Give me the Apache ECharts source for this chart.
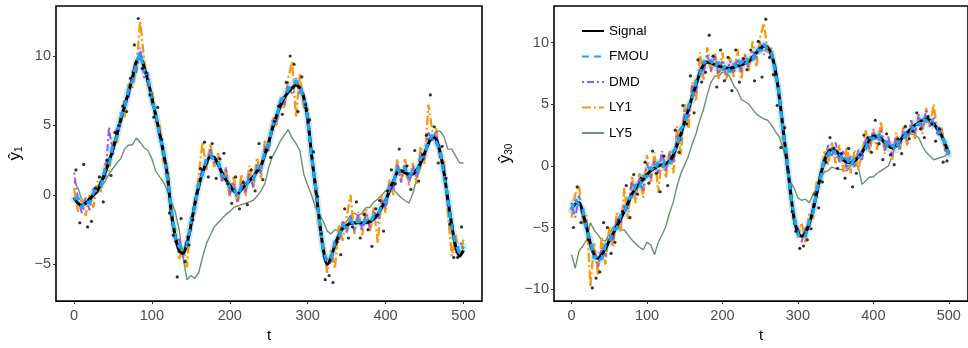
<!DOCTYPE html>
<html><head><meta charset="utf-8">
<script src="https://cdn.jsdelivr.net/npm/echarts@6.0.0/dist/echarts.min.js"></script>
<style>html,body{margin:0;padding:0;background:#fff}#c{width:968px;height:348px}</style>
</head><body><div id="c"></div>
<script>
// time grid for lines: t = 0,5,...,500 ; observations at t = 2.5,7.5,...,497.5
const lineStep = 5;
const obsStart = 2.5, obsStep = 5;
const xTicks = [0,100,200,300,400,500];
const yTicks1 = [-5,0,5,10];
const yTicks30 = [-10,-5,0,5,10];
const seriesNames = ['Signal','FMOU','DMD','LY1','LY5'];

// ---------- panel 1 (y1) ----------
const signal1 = [-0.2,-0.6,-0.75,-0.6,-0.3,0.0,0.3,0.9,1.6,2.4,
3.3,4.3,5.4,6.4,7.4,8.4,9.6,9.9,9.2,8.2,
7.0,5.7,4.4,3.0,1.4,-1.3,-3.0,-4.0,-4.2,-3.5,
-2.2,-0.7,0.6,1.6,2.3,2.75,2.7,2.2,1.6,1.1,
0.7,0.3,0.1,0.4,0.7,1.0,1.3,1.7,2.1,2.9,
3.8,4.8,5.7,6.4,7.0,7.4,7.7,7.9,7.7,7.0,
5.5,2.9,0.6,-1.8,-3.9,-5.0,-4.5,-3.6,-2.9,-2.4,
-2.2,-2.05,-2.0,-2.0,-2.0,-2.0,-1.9,-1.7,-1.4,-0.9,
-0.4,0.3,1.0,1.6,1.75,1.6,1.5,1.5,1.8,2.3,
3.0,3.7,4.2,4.0,3.1,1.6,-0.3,-2.2,-3.7,-4.4,-4.0];
const fmou1 = [-0.3,-0.2,-0.9,-0.4,-0.6,0.2,0.4,0.7,1.9,2.3,
3.6,4.2,5.6,6.3,7.6,8.2,9.5,10.2,9.0,8.4,
6.8,5.9,4.2,3.2,1.2,-1.0,-3.1,-3.7,-4.0,-3.7,
-2.0,-0.9,0.8,1.5,2.6,2.9,2.5,2.4,1.4,1.3,
0.5,0.5,-0.1,0.6,0.5,1.2,1.1,1.9,2.0,3.1,
3.7,5.0,5.6,6.7,7.1,7.6,7.9,8.2,7.8,6.9,
5.6,2.8,0.7,-1.9,-4.0,-4.8,-4.6,-3.4,-3.0,-2.2,
-2.4,-1.8,-2.2,-1.8,-2.2,-1.8,-2.0,-1.5,-1.5,-0.7,
-0.5,0.5,0.9,1.9,1.5,1.9,1.3,1.7,1.6,2.6,
2.9,3.9,4.3,3.8,3.2,1.4,-0.2,-2.4,-3.5,-4.2,-3.7];
const dmd1 = [1.6,-0.2,-1.3,-0.2,-1.1,0.6,0.0,1.4,1.2,4.9,
2.8,4.8,5.0,7.0,6.9,8.9,8.8,10.6,8.4,8.8,
6.5,6.1,4.0,3.4,0.8,-0.8,-3.4,-3.2,-4.5,-3.0,
-2.6,-0.3,0.3,2.1,2.0,3.3,2.3,2.8,1.0,1.9,
0.0,0.9,-0.5,0.9,0.2,1.5,0.6,2.2,1.5,3.5,
3.2,5.3,5.2,7.0,6.5,8.1,7.2,8.4,7.2,7.3,
5.0,3.2,0.2,-1.5,-4.4,-4.6,-5.0,-3.2,-3.4,-1.9,
-2.7,-1.5,-2.6,-1.4,-2.5,-1.3,-2.4,-1.1,-2.0,-0.4,
-1.0,0.9,0.4,2.3,0.9,2.2,0.8,2.1,1.2,3.1,
2.5,4.5,3.8,4.6,2.6,2.2,-1.0,-1.6,-4.2,-3.6,-3.3];
const ly1_1 = [0.5,-1.2,-0.3,-1.5,0.0,-0.9,1.0,0.2,2.3,1.7,
3.9,3.6,6.0,5.6,8.0,7.6,9.2,12.5,9.8,7.7,
7.6,5.2,5.0,2.4,2.2,-1.8,-2.4,-4.6,-3.7,-5.2,
-1.6,-1.3,1.4,3.8,1.8,3.7,2.0,3.0,0.9,2.0,
-0.2,1.4,-0.8,1.5,-0.1,2.1,0.5,2.7,1.2,3.9,
3.2,5.6,4.9,6.9,6.2,8.4,9.6,5.6,8.7,6.3,
6.2,2.2,1.2,-2.5,-3.4,-5.6,-4.0,-5.3,-2.2,-3.3,
-1.6,0.0,-2.8,-1.2,-2.9,-1.0,-2.6,-0.9,-3.5,0.0,
-1.3,1.1,0.0,2.6,1.0,2.6,0.7,2.3,0.8,3.5,
2.2,6.5,4.6,4.8,2.4,2.4,-1.3,-4.4,-2.9,-4.5,-3.2];
const ly5_1 = [1.0,0.5,-0.3,-0.7,-0.5,-0.1,0.2,0.6,1.0,1.5,
1.9,2.3,2.6,3.3,3.6,3.6,4.1,3.8,3.4,3.2,
2.6,1.7,1.3,0.9,0.3,-0.5,-1.2,-2.5,-4.5,-6.1,
-5.8,-6.0,-5.6,-4.5,-3.5,-2.9,-2.3,-2.0,-1.7,-1.4,
-1.2,-0.9,-0.8,-0.7,-0.6,-0.5,-0.4,-0.1,0.3,0.8,
2.0,2.8,3.3,3.9,4.3,4.7,4.1,3.7,3.2,1.5,
0.7,0.0,-0.9,-1.4,-1.9,-2.6,-2.8,-2.5,-2.6,-2.1,
-1.9,-1.5,-1.3,-1.5,-1.3,-0.9,-0.9,-0.5,-0.3,0.0,
0.3,0.2,0.4,0.1,-0.2,-0.4,-0.6,0.1,1.2,2.0,
3.0,3.7,4.1,4.6,4.6,4.2,3.3,3.3,2.8,2.3,2.3];
const obs1 = [1.8,-2.0,2.2,-2.3,-1.9,0.5,1.3,-0.5,2.5,1.4,
4.5,5.0,6.4,6.0,8.4,10.8,12.7,9.1,8.8,7.2,
5.6,6.3,4.0,2.3,-1.3,-2.9,-5.9,-1.7,-4.8,-3.6,
-1.8,0.1,1.9,3.8,1.3,3.7,1.2,2.6,3.0,0.8,
-0.6,1.3,-1.0,0.9,-0.7,1.8,0.3,3.7,1.1,3.2,
2.7,5.3,6.4,5.8,8.1,10.0,9.4,6.0,8.5,6.5,
5.4,3.1,-0.1,-2.8,-6.1,-5.8,-6.3,-3.4,-4.3,-1.0,
-3.1,-2.3,-0.5,-3.1,-1.4,-2.5,-3.7,-1.0,-0.4,-2.6,
0.3,1.8,0.8,3.3,1.7,2.1,0.4,3.2,1.0,2.9,
4.3,7.2,4.9,2.3,3.5,1.2,-2.1,-4.5,-4.5,-2.3];

// ---------- panel 2 (y30) ----------
const signal30 = [-3.5,-3.1,-3.0,-3.8,-5.0,-6.3,-7.2,-7.5,-7.2,-6.7,
-6.1,-5.5,-4.9,-4.3,-3.7,-3.0,-2.3,-1.8,-1.5,-1.1,
-0.7,-0.4,-0.2,0.0,0.1,0.2,0.4,0.9,1.7,2.6,
3.6,4.6,5.6,6.6,7.5,8.2,8.4,8.35,8.2,8.1,
8.0,7.95,7.9,8.0,8.1,8.2,8.35,8.5,8.8,9.2,
9.5,9.7,9.6,9.1,7.8,5.8,3.2,0.6,-2.0,-4.3,
-5.4,-5.7,-5.4,-4.7,-3.6,-2.2,-0.8,0.4,1.1,1.3,
1.2,0.9,0.5,0.3,0.25,0.4,0.7,1.1,1.6,2.1,
2.4,2.4,2.2,1.9,1.6,1.45,1.6,2.0,2.4,2.7,
3.0,3.3,3.5,3.7,3.8,3.7,3.4,3.0,2.5,1.8,1.0];
const fmou30 = [-3.6,-2.7,-3.2,-3.5,-5.3,-6.0,-7.5,-7.2,-7.6,-6.4,
-6.3,-5.2,-5.1,-4.0,-3.9,-2.7,-2.5,-1.5,-1.8,-0.8,
-0.9,-0.1,-0.4,0.3,-0.1,0.5,0.2,1.2,1.5,3.0,
3.4,4.9,5.4,6.9,7.3,8.5,8.2,8.6,8.0,8.4,
7.8,8.2,7.6,8.3,7.9,8.5,8.1,8.8,8.6,9.5,
9.3,9.9,9.4,9.2,7.6,5.9,3.0,0.8,-2.2,-4.1,
-5.6,-5.5,-5.7,-4.5,-3.8,-2.0,-1.0,0.6,0.9,1.5,
1.0,1.1,0.3,0.6,0.0,0.6,0.5,1.3,1.4,2.3,
2.2,2.6,2.0,2.1,1.4,1.7,1.3,2.2,2.2,2.9,
2.8,3.5,3.3,3.9,3.6,3.9,3.2,3.2,2.3,1.9,0.9];
const dmd30 = [-3.0,-4.2,-2.4,-4.3,-4.6,-6.8,-6.9,-8.2,-6.6,-7.3,
-5.6,-6.0,-4.4,-4.8,-3.2,-3.6,-1.3,-2.3,-1.0,-2.0,
0.2,-1.0,0.4,-0.6,1.2,-0.4,1.0,0.2,2.6,1.9,
4.5,3.9,6.5,5.9,8.0,7.7,9.0,7.7,8.9,7.4,
8.6,7.3,8.5,7.5,8.7,7.6,9.0,7.9,9.4,8.6,
10.1,9.0,9.9,8.6,8.2,5.3,3.7,0.0,-1.5,-4.8,
-5.0,-6.2,-5.0,-5.2,-3.1,-2.7,-0.3,-0.1,1.7,0.8,
1.9,0.3,1.2,-0.3,0.8,-0.1,1.3,0.5,2.3,1.4,
3.0,1.8,2.9,1.2,2.3,0.8,2.3,1.4,3.1,2.0,
3.7,2.6,4.2,3.0,4.5,3.1,4.0,2.4,3.1,1.2,1.5];
const ly1_30 = [-4.2,-2.3,-1.6,-4.7,-4.0,-9.8,-6.2,-8.8,-5.8,-8.0,
-5.0,-6.6,-3.8,-5.4,-1.8,-4.3,-0.8,-3.0,-0.6,-2.6,
0.9,-1.4,1.1,-2.2,1.0,-1.0,1.3,-0.6,3.2,0.9,
5.0,3.0,6.8,5.2,9.2,7.0,9.6,7.6,9.2,7.0,
9.2,6.9,8.8,7.2,9.5,7.0,9.1,7.6,10.1,8.0,
10.4,11.6,9.2,9.6,7.2,6.4,2.2,1.4,-2.8,-3.8,
-5.8,-4.6,-6.2,-3.8,-4.3,-1.2,-1.5,1.3,0.1,1.9,
0.2,1.7,-0.5,1.6,-0.6,1.3,-0.3,1.0,2.9,1.0,
2.9,1.3,3.6,1.0,2.4,0.5,2.7,1.2,3.2,1.6,
3.7,2.2,4.1,2.6,4.7,3.2,5.0,2.6,3.2,1.4,0.8];
const ly5_30 = [-7.2,-8.3,-6.9,-6.5,-6.0,-4.6,-5.2,-5.6,-6.0,-6.1,
-5.5,-5.0,-4.7,-5.2,-5.2,-5.6,-6.0,-6.3,-6.6,-6.8,
-6.2,-6.4,-7.2,-6.2,-5.6,-4.9,-3.8,-2.9,-1.6,-0.6,
0.1,0.8,1.8,2.6,3.7,4.6,5.8,6.8,7.3,7.3,
7.6,7.6,7.2,6.5,6.1,5.4,5.2,5.0,4.6,4.2,
4.0,3.8,3.7,3.3,2.8,2.4,1.5,0.3,-1.3,-1.8,
-2.6,-2.8,-2.7,-3.0,-2.3,-1.9,-1.0,-0.5,-0.4,-0.1,
-0.2,-0.3,-0.3,-0.4,0.0,0.2,-0.1,-1.5,-1.2,-0.9,
-0.9,-0.6,-0.4,-0.2,0.0,0.8,1.9,2.2,2.5,2.8,
2.6,2.5,2.3,1.6,1.1,0.8,0.5,0.6,0.7,0.8,1.2];
const obs30 = [-5.0,-1.7,-4.6,-4.5,-6.0,-9.9,-9.1,-8.6,-4.6,-5.0,
-7.1,-6.2,-4.4,-3.7,-1.6,-4.2,-0.7,-2.3,-1.0,0.3,
-1.4,1.2,-0.6,-2.1,0.8,-1.6,0.6,2.9,1.1,4.9,
3.4,7.3,4.3,8.6,6.8,7.6,10.6,8.9,6.4,9.4,
6.9,8.8,6.1,9.4,6.8,8.7,7.8,9.4,6.9,10.1,
7.2,11.9,8.8,7.4,4.9,1.5,3.1,-0.5,-3.7,-5.3,
-6.7,-6.5,-6.0,-5.1,-2.3,-3.4,-1.3,0.3,2.3,1.4,
-0.2,1.0,-1.0,1.4,-1.7,-0.6,0.9,2.5,2.3,1.1,
3.7,1.8,0.5,2.6,0.9,0.1,2.2,1.0,3.2,2.2,
2.8,4.3,3.0,2.3,4.0,3.4,2.0,3.0,0.3,0.4];

// ---------- build ----------
const lp = arr => arr.map((v,i)=>[i*lineStep, v]);
const op = arr => arr.map((v,i)=>[obsStart + i*obsStep, v]);
const minus = v => String(v).replace('-', '\u2212');
const FONT = 'Liberation Sans, Arial, sans-serif';

const col = {Signal:'#000000', FMOU:'#16A8F0', DMD:'#8B5CF6', LY1:'#F99A0A', LY5:'#6B9170'};

function panelSeries(g, S, F, D, L1, L5, O){
  const base = {type:'line', xAxisIndex:g, yAxisIndex:g, symbol:'none', showSymbol:false, animation:false};
  return [
    Object.assign({}, base, {name:'band'+g, data:lp(F), z:1, silent:true,
      lineStyle:{color:'rgba(150,212,245,0.5)', width:7, cap:'round', join:'round'}}),
    Object.assign({}, base, {name:'LY5', data:lp(L5), z:2,
      lineStyle:{color:col.LY5, width:1.4}, itemStyle:{color:col.LY5}}),
    Object.assign({}, base, {name:'LY1', data:lp(L1), z:3,
      lineStyle:{color:col.LY1, width:2.3, type:[9,3,2,3]}, itemStyle:{color:col.LY1}}),
    Object.assign({}, base, {name:'DMD', data:lp(D), z:4,
      lineStyle:{color:col.DMD, width:2, type:[2,3,7,3]}, itemStyle:{color:col.DMD}}),
    Object.assign({}, base, {name:'Signal', data:lp(S), z:5, smooth:0.3,
      lineStyle:{color:col.Signal, width:3}, itemStyle:{color:col.Signal}}),
    Object.assign({}, base, {name:'FMOU', data:lp(F), z:6,
      lineStyle:{color:col.FMOU, width:3.2, type:[7,5]}, itemStyle:{color:col.FMOU}}),
    {type:'scatter', name:'obs'+g, xAxisIndex:g, yAxisIndex:g, data:op(O), symbolSize:3.2,
      itemStyle:{color:'#000'}, z:7, silent:true, animation:false}
  ];
}

function xAx(g, min, max){
  return {type:'value', gridIndex:g, min:min, max:max, name:'t', nameLocation:'middle', nameGap:24,
    nameTextStyle:{color:'#000', fontSize:15, fontFamily:FONT},
    axisLine:{show:false, onZero:false}, splitLine:{show:false},
    axisTick:{show:true, length:3, customValues:xTicks, lineStyle:{color:'#333'}},
    axisLabel:{customValues:xTicks, color:'#4D4D4D', fontSize:14.5, fontFamily:FONT, margin:7, formatter:minus}};
}
function yAx(g, min, max, ticks, sub, gap){
  return {type:'value', gridIndex:g, min:min, max:max,
    name:'{a|\u0177}{b|'+sub+'}', nameLocation:'middle', nameGap:gap,
    nameTextStyle:{color:'#000', fontFamily:FONT, rich:{a:{fontSize:17, fontFamily:FONT, color:'#000'}, b:{fontSize:10, fontFamily:FONT, color:'#000', padding:[8,0,0,0]}}},
    axisLine:{show:false, onZero:false}, splitLine:{show:false},
    axisTick:{show:true, length:3, customValues:ticks, lineStyle:{color:'#333'}},
    axisLabel:{customValues:ticks, color:'#4D4D4D', fontSize:14.5, fontFamily:FONT, margin:5, formatter:minus}};
}

const chart = echarts.init(document.getElementById('c'), null, {renderer:'canvas'});
chart.setOption({
  backgroundColor:'#fff',
  animation:false,
  grid:[
    {left:56, top:6, width:426, height:303, show:true, borderColor:'#000', borderWidth:1.6, backgroundColor:'transparent'},
    {left:554, top:6, width:418, height:303, show:true, borderColor:'#000', borderWidth:1.6, backgroundColor:'transparent'}
  ],
  xAxis:[xAx(0,-23.1,523.8), xAx(1,-23.2,525.4)],
  yAxis:[yAx(0,-7.64,13.6,yTicks1,'1',32), yAx(1,-10.97,12.97,yTicks30,'30',40)],
  legend:{data:seriesNames, orient:'vertical', left:576, top:19, itemWidth:22, itemHeight:14, itemGap:11.5,
    itemStyle:{opacity:0, borderWidth:0},
    textStyle:{color:'#000', fontSize:13.5, fontFamily:FONT}},
  series:[].concat(
    panelSeries(0, signal1, fmou1, dmd1, ly1_1, ly5_1, obs1),
    panelSeries(1, signal30, fmou30, dmd30, ly1_30, ly5_30, obs30)
  )
});
</script></body></html>
